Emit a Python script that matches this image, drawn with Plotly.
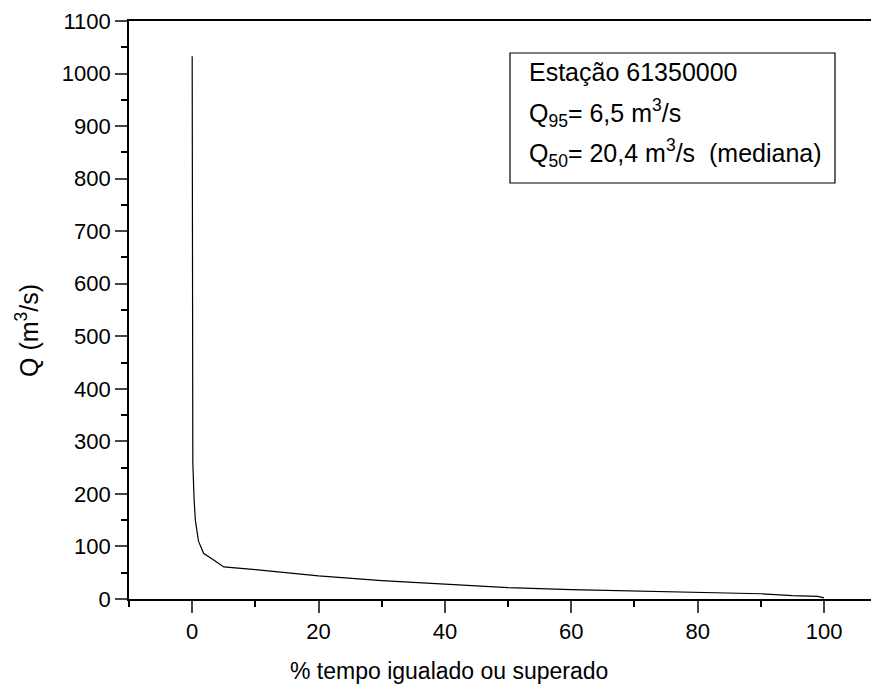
import plotly.graph_objects as go

# Flow duration curve, Estação 61350000
pct_time = [0, 0.05, 0.1, 0.3, 0.5, 1.0, 1.8, 3.4, 5, 10, 20, 30, 40, 50, 60, 70, 80, 90, 95, 99, 100]
flow_q = [1033, 500, 260, 190, 150, 110, 87, 74, 61, 56, 44, 35, 28, 21.5, 18, 15.5, 13, 10, 6.5, 5, 2]

y_ticks = list(range(0, 1101, 100))
x_ticks = [0, 20, 40, 60, 80, 100]

legend_lines = [
    "Estação 61350000",
    "Q<sub>95</sub>= 6,5 m<sup>3</sup>/s",
    "Q<sub>50</sub>= 20,4 m<sup>3</sup>/s  (mediana)",
]
x_title = "% tempo igualado ou superado"
y_title = "Q (m<sup>3</sup>/s)"

FONT = "Liberation Sans, Arial, sans-serif"

fig = go.Figure()
fig.add_trace(go.Scatter(x=pct_time, y=flow_q, mode="lines",
                         line=dict(color="black", width=1.2), showlegend=False))

# page body has an 8px margin; work in figure coordinates
OFF = 8
W, H = 879 - OFF, 691 - OFF
L, R, T, B = 129 - OFF, 879 - OFF, 21 - OFF, 599 - OFF

def px_x(p):  # screen px -> paper
    return (p - OFF - L) / (R - L)

def px_y(p):
    return (B - (p - OFF)) / (B - T)

fig.update_layout(
    width=W, height=H,
    margin=dict(l=L, r=W - R, t=T, b=H - B, autoexpand=False),
    paper_bgcolor="white", plot_bgcolor="white",
    font=dict(family=FONT, color="black"),
    xaxis=dict(range=[-10, 108.7], tickvals=x_ticks, ticks="outside", ticklen=12, tickwidth=1.6,
               showgrid=False, zeroline=False, showline=True, linecolor="black", linewidth=1.8,
               mirror=True, tickfont=dict(size=22), automargin=False,
               minor=dict(dtick=10, tick0=0, ticks="outside", ticklen=6, tickwidth=1.6, tickcolor="black")),
    yaxis=dict(range=[0, 1100], tickvals=y_ticks, ticks="outside", ticklen=12, tickwidth=1.6,
               showgrid=False, zeroline=False, showline=True, linecolor="black", linewidth=1.8,
               tickfont=dict(size=22), automargin=False,
               minor=dict(dtick=50, tick0=0, ticks="outside", ticklen=6, tickwidth=1.6, tickcolor="black")),
)

fig.add_annotation(xref="paper", yref="paper", x=px_x(449), y=px_y(671),
                   xanchor="center", yanchor="middle", text=x_title, showarrow=False,
                   font=dict(size=23, family=FONT, color="black"))
fig.add_annotation(xref="paper", yref="paper", x=px_x(27), y=px_y(330),
                   xanchor="center", yanchor="middle", text=y_title, showarrow=False,
                   textangle=-90, font=dict(size=25, family=FONT, color="black"))

fig.add_shape(type="rect", xref="paper", yref="paper",
              x0=px_x(510), x1=px_x(835), y0=px_y(183), y1=px_y(53),
              line=dict(color="black", width=1.2), fillcolor="white", layer="above")

for i, txt in enumerate(legend_lines):
    cy = [72, 113, 153][i]
    fig.add_annotation(xref="paper", yref="paper", x=px_x(527), y=px_y(cy),
                       xanchor="left", yanchor="middle", text=txt, showarrow=False,
                       font=dict(size=25, family=FONT, color="black"), align="left")

fig.write_html("out.html")
